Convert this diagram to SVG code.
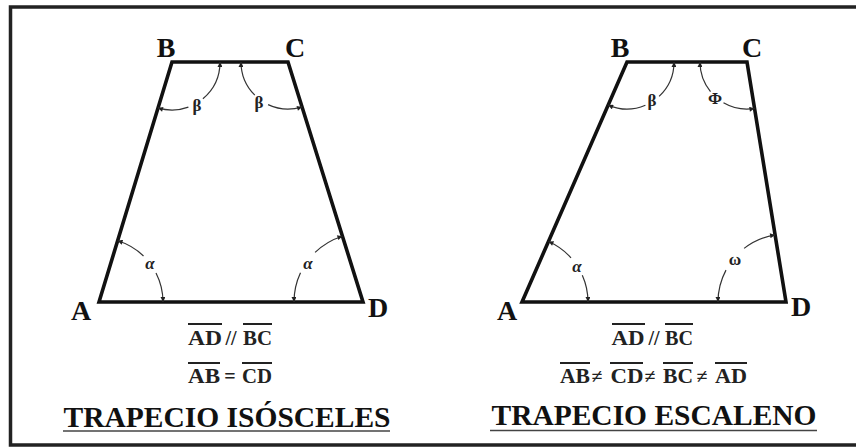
<svg xmlns="http://www.w3.org/2000/svg" width="856" height="448" viewBox="0 0 856 448">
<defs>
<marker id="ah" viewBox="0 0 6 6" refX="6" refY="3" markerWidth="6" markerHeight="5" markerUnits="userSpaceOnUse" orient="auto">
<path d="M0,0 L6,3 L0,6 Z" fill="#222"/>
</marker>
</defs>
<style>
.shape{fill:none;stroke:#111;stroke-width:3.6;stroke-linejoin:miter}
.arc{fill:none;stroke:#333;stroke-width:1.2;marker-end:url(#ah)}
.vtx{font-family:"Liberation Serif",serif;font-weight:bold;font-size:28px;fill:#111;text-anchor:middle}
.ang{font-family:"Liberation Serif",serif;font-weight:bold;font-size:17px;fill:#222;text-anchor:middle}
.angi{font-style:italic}
.frm{font-family:"Liberation Serif",serif;font-weight:bold;font-size:20px;fill:#222;text-anchor:middle}
.ttl{font-family:"Liberation Serif",serif;font-weight:bold;font-size:30px;fill:#111;text-anchor:middle}
.ov{stroke:#222;stroke-width:2}
.ul{stroke:#444;stroke-width:1.5}
</style>
<rect width="856" height="448" fill="#fff"/>
<g id="frame"><path d="M860,7 H10.5 V445 H860" fill="none" stroke="#222" stroke-width="3.5"/></g>

<g id="trapecio-isosceles">
<polygon class="shape" points="99,302 172,62 288,62 363,302"/>
<text class="vtx" x="166" y="57">B</text>
<text class="vtx" x="295" y="57">C</text>
<text class="vtx" x="81" y="320">A</text>
<text class="vtx" x="378" y="317">D</text>
<text class="ang angi" x="150" y="269">α</text>
<text class="ang" x="197" y="111">β</text>
<text class="ang" x="259" y="108">β</text>
<text class="ang angi" x="308" y="269">α</text>
<text class="frm" x="205" y="345" textLength="34" lengthAdjust="spacingAndGlyphs">AD</text>
<text class="frm" x="231" y="345">//</text>
<text class="frm" x="257.5" y="345" textLength="29" lengthAdjust="spacingAndGlyphs">BC</text>
<line class="ov" x1="188" y1="324" x2="222" y2="324"/>
<line class="ov" x1="243" y1="324" x2="272" y2="324"/>
<text class="frm" x="204" y="383" textLength="32" lengthAdjust="spacingAndGlyphs">AB</text>
<text class="frm" x="230" y="383">=</text>
<text class="frm" x="257" y="383" textLength="30" lengthAdjust="spacingAndGlyphs">CD</text>
<line class="ov" x1="188" y1="363" x2="220" y2="363"/>
<line class="ov" x1="242" y1="363" x2="272" y2="363"/>
<text class="ttl" x="227" y="427" textLength="327" lengthAdjust="spacingAndGlyphs">TRAPECIO ISÓSCELES</text>
<line class="ul" x1="63" y1="431" x2="390" y2="431"/>
</g>

<g id="trapecio-escaleno">
<polygon class="shape" points="522,302 627,62 747,62 786,302"/>
<text class="vtx" x="620" y="57">B</text>
<text class="vtx" x="752" y="57">C</text>
<text class="vtx" x="507" y="320">A</text>
<text class="vtx" x="801" y="316">D</text>
<text class="ang angi" x="577" y="272">α</text>
<text class="ang" x="652" y="106">β</text>
<text class="ang" x="715" y="104">Φ</text>
<text class="ang" x="735" y="265">ω</text>
<text class="frm" x="628" y="345" textLength="33" lengthAdjust="spacingAndGlyphs">AD</text>
<text class="frm" x="654" y="345">//</text>
<text class="frm" x="679" y="345" textLength="28" lengthAdjust="spacingAndGlyphs">BC</text>
<line class="ov" x1="612" y1="324" x2="645" y2="324"/>
<line class="ov" x1="665" y1="324" x2="693" y2="324"/>
<text class="frm" x="575" y="383" textLength="30" lengthAdjust="spacingAndGlyphs">AB</text>
<text class="frm" x="597" y="383">≠</text>
<text class="frm" x="627" y="383" textLength="33" lengthAdjust="spacingAndGlyphs">CD</text>
<text class="frm" x="650" y="383">≠</text>
<text class="frm" x="678" y="383" textLength="30" lengthAdjust="spacingAndGlyphs">BC</text>
<text class="frm" x="702" y="383">≠</text>
<text class="frm" x="731" y="383" textLength="32" lengthAdjust="spacingAndGlyphs">AD</text>
<line class="ov" x1="560" y1="363" x2="590" y2="363"/>
<line class="ov" x1="610" y1="363" x2="643" y2="363"/>
<line class="ov" x1="663" y1="363" x2="693" y2="363"/>
<line class="ov" x1="715" y1="363" x2="747" y2="363"/>
<text class="ttl" x="654" y="425" textLength="325" lengthAdjust="spacingAndGlyphs">TRAPECIO ESCALENO</text>
<line class="ul" x1="490" y1="430.5" x2="817" y2="430.5"/>
</g>

<g id="connectors">
<path class="arc" d="M156,272.9 A64,64 0 0 1 163,302"/>
<path class="arc" d="M143.5,256 A64,64 0 0 0 117.6,240.8"/>
<path class="arc" d="M202.9,98.8 A48,48 0 0 0 220,62"/>
<path class="arc" d="M188.4,107.1 A48,48 0 0 1 158,107.9"/>
<path class="arc" d="M268.1,104.6 A47,47 0 0 0 302,106.9"/>
<path class="arc" d="M254.8,95.2 A47,47 0 0 1 241,62"/>
<path class="arc" d="M300.5,272.8 A69,69 0 0 0 294,302"/>
<path class="arc" d="M315.1,252.4 A69,69 0 0 1 342.4,236.2"/>
<path class="arc" d="M582.3,275.2 A66,66 0 0 1 588,302"/>
<path class="arc" d="M571,257.8 A66,66 0 0 0 548.5,241.5"/>
<path class="arc" d="M659.1,96.4 A47,47 0 0 0 674,62"/>
<path class="arc" d="M645.4,105.3 A47,47 0 0 1 608.2,105.1"/>
<path class="arc" d="M723.5,102.7 A47,47 0 0 0 754.5,108.4"/>
<path class="arc" d="M710.5,91.6 A47,47 0 0 1 700,62"/>
<path class="arc" d="M726,270.1 A68,68 0 0 0 718,302"/>
<path class="arc" d="M744.1,248.4 A68,68 0 0 1 775.1,234.9"/>
</g>
</svg>
